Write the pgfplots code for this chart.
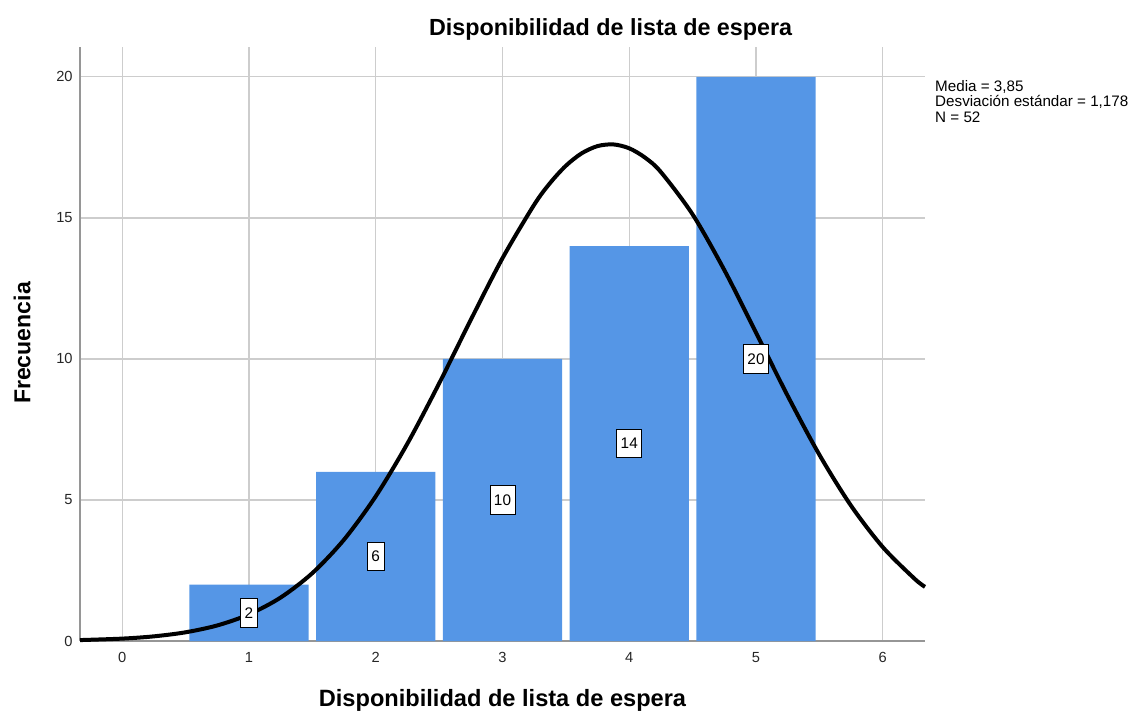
\documentclass[border=0pt]{standalone}
\usepackage{pgfplots}
\pgfplotsset{compat=1.18}
\usepackage{fontspec}
\setmainfont{Liberation Sans}
\definecolor{barblue}{RGB}{85,150,230}
\definecolor{gridgray}{RGB}{205,205,205}
\definecolor{axgray}{RGB}{150,150,150}
\begin{document}
\begin{tikzpicture}[x=1pt,y=1pt]
\begin{axis}[
  scale only axis,
  width=633.75pt, height=445.5pt,
  xmin=-0.3333, xmax=6.3333,
  ymin=0, ymax=21.06,
  axis x line*=bottom, axis y line*=left,
  axis line style={axgray, line width=1pt, -},
  xtick={0,1,2,3,4,5,6},
  ytick={0,5,10,15,20},
  major tick length=0pt,
  grid=major,
  grid style={gridgray, line width=0.9pt},
  tick label style={font=\fontsize{11}{13}\selectfont, text=black!85},
  /pgf/number format/assume math mode=true,
  xticklabel style={yshift=-5pt},
  yticklabel style={xshift=-2pt},
  clip=false,
]
\addplot[ybar, bar width=0.94, fill=barblue, draw=none] coordinates {
  (1,2) (2,6) (3,10) (4,14) (5,20)
};
\addplot[only marks, mark=none, nodes near coords, point meta=explicit symbolic,
  nodes near coords style={draw=black, line width=0.6pt, fill=white, anchor=center,
    inner xsep=3pt, inner ysep=0pt, minimum height=21.5pt,
    font=\fontsize{11.5}{13}\selectfont}] coordinates {
  (1,1) [2] (2,3) [6] (3,5) [10] (4,7) [14] (5,10) [20]
};
\addplot[black, line width=3pt, smooth] coordinates {
  (-0.3333,0.0325) (0,0.0844) (0.25,0.165) (0.5,0.3087) (0.75,0.552)
  (1.0,0.9437) (1.25,1.542) (1.5,2.408) (1.75,3.595) (2.0,5.131)
  (2.25,7.001) (2.5,9.132) (2.75,11.388) (3.0,13.573) (3.25,15.468)
  (3.375,16.235) (3.5,16.850) (3.625,17.292) (3.75,17.547) (3.875,17.606)
  (4.0,17.468) (4.125,17.137) (4.25,16.624)
  (4.5,15.123) (4.75,13.152) (5.0,10.935) (5.25,8.691) (5.5,6.603)
  (5.75,4.796) (6.0,3.330) (6.25,2.211) (6.3333,1.920)
};
\coordinate (O) at (rel axis cs:0,0);
\node[font=\bfseries\fontsize{17.5}{20}\selectfont] at (rel axis cs:0.628,1.0303) {Disponibilidad de lista de espera};
\node[font=\bfseries\fontsize{17.7}{20}\selectfont] at (rel axis cs:0.5,-0.0993) {Disponibilidad de lista de espera};
\node[font=\bfseries\fontsize{17.3}{20}\selectfont, rotate=90] at (rel axis cs:-0.0686,0.5017) {Frecuencia};
\node[anchor=north west, align=left, inner sep=0pt, font=\fontsize{11.4}{11.6}\selectfont]
  at (rel axis cs:1.0118,0.9444) {Media = 3,85\\Desviación estándar = 1,178\\N = 52};
\end{axis}
\path (O) ++(-60pt,-54pt) rectangle ++(855pt,534.75pt);
\end{tikzpicture}
\end{document}
